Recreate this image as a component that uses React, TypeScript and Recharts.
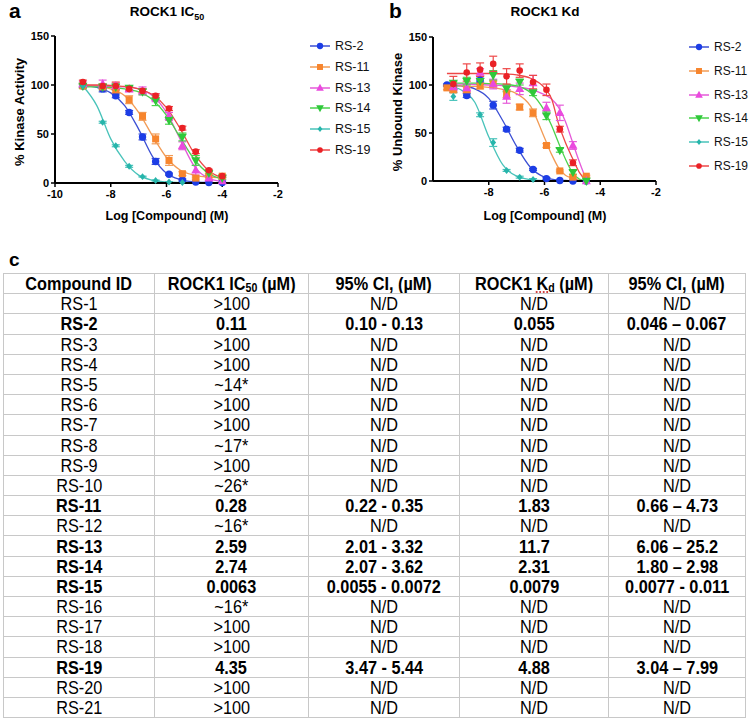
import React from "react";
import { ComposedChart, Line, Scatter, XAxis, YAxis, ErrorBar } from "recharts";

// log [compound] (M) for the measured points
const ic50X = [-9, -8.29, -7.82, -7.34, -6.86, -6.39, -5.91, -5.43, -4.95, -4.48, -4];
const kdX = [-9.5, -9.27, -8.79, -8.31, -7.84, -7.36, -6.89, -6.41, -5.93, -5.45, -4.98, -4.5];

const ic50FitX = [-9, -8.5, -8, -7.5, -7, -6.5, -6, -5.5, -5, -4.5, -4];
const kdFitX = [-9.5, -9, -8.5, -8, -7.5, -7, -6.5, -6, -5.75, -5.5, -5.25, -5, -4.75, -4.5];

const seriesNames = ["RS-2", "RS-11", "RS-13", "RS-14", "RS-15", "RS-19"];

// panel a: % kinase activity
const ic50RS2 = [99, 96, 89, 72, 47, 22, 9, 3, 1, 0.5, 0.5];
const ic50RS11 = [99, 98, 95, 85, 68, 45, 23, 9.5, 5, 7.5, 7];
const ic50RS13 = [101, 101, 99, 96, 94, 87, 68, 38, 13, 5, 2];
const ic50RS14 = [99, 98, 98, 97, 93, 84, 64, 47, 23, 10, 5];
const ic50RS15 = [99, 62, 38, 17, 6.5, 2.5, 1, 0.5, null, null, null];
const ic50RS19 = [103, 99, 99, 96, 94, 89, 76, 56, 32, 13, 7];

const ic50RS2Err = [2, 3, 2, 2, 3, 3, 1, 1, 0, 0, 0];
const ic50RS11Err = [2, 2, 3, 4, 4, 5, 5, 2, 1, 2, 1];
const ic50RS13Err = [3, 4, 3, 3, 4, 4, 4, 4, 5, 2, 1];
const ic50RS14Err = [2, 3, 3, 2, 3, 5, 4, 4, 5, 2, 1];
const ic50RS15Err = [1, 1, 1, 1, 0.5, 0.5, 0.3, 0.3, null, null, null];
const ic50RS19Err = [2, 2, 4, 2, 2, 2, 2, 2, 2, 1, 1];

const ic50RS2Fit = [99.5, 97.5, 92, 79, 55, 27, 10, 3.5, 1.2, 0.5, 0.2];
const ic50RS11Fit = [99.5, 99, 96, 89, 72, 48, 26, 13, 8, 6, 5.5];
const ic50RS13Fit = [99, 99, 98.5, 98, 96, 89, 72, 44, 17, 5, 1.5];
const ic50RS14Fit = [98, 98, 97.5, 96, 93, 85, 69, 46, 24, 10, 4];
const ic50RS15Fit = [99, 79, 45, 22, 8, 2.8, 1, 0.4, null, null, null];
const ic50RS19Fit = [100, 100, 99.5, 98.5, 96, 90, 77, 55, 30, 13, 5];

// panel b: % unbound kinase
const kdRS2 = [100, 97, 89, 105, 79, 54, 32, 12, 2.5, 0.5, 0, 0];
const kdRS11 = [97, 95, 95, 99, 101, 91, 77, 71, 37, 10.5, 4, 5];
const kdRS13 = [null, 98, 97, 113, 101, 88, 96, 102, 76, 71, 37, 0];
const kdRS14 = [null, 102, 104, 104, 110, 96, 103, 92, 68, 32, 9, 0];
const kdRS15 = [null, 88, null, 69, 40, 11, 4, 1.5, null, null, null, null];
const kdRS19 = [null, 101, 113, 116, 122, 109, 115, 103, 95, 54, 19, null];

const kdRS2Err = [1, 2, 2, 2, 4, 2, 2, 1, 1, 0, 0, 0];
const kdRS11Err = [2, 3, 3, 3, 3, 4, 3, 4, 2, 1, 1, 1];
const kdRS13Err = [null, 3, 4, 4, 5, 7, 6, 8, 6, 8, 4, 0];
const kdRS14Err = [null, 2, 4, 3, 5, 3, 3, 3, 4, 2, 2, 0];
const kdRS15Err = [null, 4, null, 2, 4, 1, 1, 1, null, null, null, null];
const kdRS19Err = [null, 8, 9, 7, 8, 8, 7, 7, 6, 3, 3, null];

const kdRS2Fit = [100, 99, 96, 86, 63, 36, 14, 4, 2, 1, 0.5, 0.2, 0, 0];
const kdRS11Fit = [99.5, 99, 98.5, 97.5, 95.5, 91, 78, 45, 28, 14, 6, 3, 1, 0];
const kdRS13Fit = [101, 101, 100.5, 100, 99.5, 98, 95.5, 90, 85.5, 77, 62, 41, 20, 1];
const kdRS14Fit = [102, 102, 102, 101.5, 101, 99, 92, 73, 58, 40, 23, 9, 2, 0];
const kdRS15Fit = [99, 95, 82, 46, 17, 5, 1.5, 0.4, null, null, null, null, null, null];
const kdRS19Fit = [112, 112, 112, 112, 111.5, 110.5, 107, 97, 86, 60, 40, 24, 9, 0];

// table c
const compoundIds = ["RS-1", "RS-2", "RS-3", "RS-4", "RS-5", "RS-6", "RS-7", "RS-8", "RS-9", "RS-10", "RS-11",
  "RS-12", "RS-13", "RS-14", "RS-15", "RS-16", "RS-17", "RS-18", "RS-19", "RS-20", "RS-21"];
const ic50Vals = [">100", "0.11", ">100", ">100", "~14*", ">100", ">100", "~17*", ">100", "~26*", "0.28",
  "~16*", "2.59", "2.74", "0.0063", "~16*", ">100", ">100", "4.35", ">100", ">100"];
const ic50Ci = ["N/D", "0.10 - 0.13", "N/D", "N/D", "N/D", "N/D", "N/D", "N/D", "N/D", "N/D", "0.22 - 0.35",
  "N/D", "2.01 - 3.32", "2.07 - 3.62", "0.0055 - 0.0072", "N/D", "N/D", "N/D", "3.47 - 5.44", "N/D", "N/D"];
const kdVals = ["N/D", "0.055", "N/D", "N/D", "N/D", "N/D", "N/D", "N/D", "N/D", "N/D", "1.83",
  "N/D", "11.7", "2.31", "0.0079", "N/D", "N/D", "N/D", "4.88", "N/D", "N/D"];
const kdCi = ["N/D", "0.046 – 0.067", "N/D", "N/D", "N/D", "N/D", "N/D", "N/D", "N/D", "N/D", "0.66 – 4.73",
  "N/D", "6.06 – 25.2", "1.80 – 2.98", "0.0077 - 0.011", "N/D", "N/D", "N/D", "3.04 – 7.99", "N/D", "N/D"];
const boldRows = ["RS-2", "RS-11", "RS-13", "RS-14", "RS-15", "RS-19"];

const markerColors = ["#1c3de6", "#f7852d", "#ea4ade", "#2fc83a", "#27b5ab", "#ea2126"];
const lineColors = ["#3b4fd4", "#f29b55", "#e55ad9", "#4ad34c", "#48c3ba", "#ee4747"];
const markerShapes = ["circle", "square", "triangle", "triangleDown", "diamond", "circle"];
const markerSizes = [3.7, 3.5, 4.1, 4.1, 2.9, 3.3];

const FONT = "'Liberation Sans', Arial, sans-serif";

function toPoints(xs: number[], ys: (number | null)[], errs?: (number | null)[]) {
  return xs
    .map((x, i) => ({ x, y: ys[i], err: errs ? errs[i] ?? 0 : 0 }))
    .filter((p) => p.y != null);
}

function Marker({ cx, cy, shape, color, size }: any) {
  if (cx == null || cy == null) return null;
  const s = size;
  if (shape === "square") return <rect x={cx - s} y={cy - s} width={2 * s} height={2 * s} fill={color} />;
  if (shape === "triangle")
    return <polygon points={`${cx},${cy - s * 1.2} ${cx + s * 1.1},${cy + s * 0.8} ${cx - s * 1.1},${cy + s * 0.8}`} fill={color} />;
  if (shape === "triangleDown")
    return <polygon points={`${cx},${cy + s * 1.2} ${cx + s * 1.1},${cy - s * 0.8} ${cx - s * 1.1},${cy - s * 0.8}`} fill={color} />;
  if (shape === "diamond")
    return <polygon points={`${cx},${cy - s * 1.2} ${cx + s},${cy} ${cx},${cy + s * 1.2} ${cx - s},${cy}`} fill={color} />;
  return <circle cx={cx} cy={cy} r={s} fill={color} />;
}

function Legend({ left, top, gap, font }: { left: number; top: number; gap: number; font: number }) {
  return (
    <div style={{ position: "absolute", left, top }}>
      {seriesNames.map((name, i) => (
        <div key={name} style={{ position: "absolute", top: i * gap - 8, left: 0, height: 16, display: "flex", alignItems: "center", whiteSpace: "nowrap" }}>
          <svg width={22} height={12}>
            <line x1={1} y1={6} x2={21} y2={6} stroke={lineColors[i]} strokeWidth={1.5} />
            <Marker cx={11} cy={6} shape={markerShapes[i]} color={markerColors[i]} size={markerSizes[i] * 0.85} />
          </svg>
          <span style={{ marginLeft: 4, fontFamily: FONT, fontSize: font, color: "#111" }}>{name}</span>
        </div>
      ))}
    </div>
  );
}

function DosePanel(props: any) {
  const { width, yAxisWidth, top, right, xAxisHeight, xs, values, errors, fitX, fits, xTicks } = props;
  const tick = { fill: "#000", fontSize: 11, fontWeight: 700, fontFamily: FONT };
  return (
    <ComposedChart width={width} height={230} margin={{ top, right, bottom: 0, left: 0 }}>
      <XAxis
        type="number"
        dataKey="x"
        domain={[-10, -2]}
        ticks={xTicks}
        allowDataOverflow
        height={xAxisHeight}
        tick={tick}
        tickSize={4}
        tickMargin={3}
        axisLine={{ stroke: "#000", strokeWidth: 2 }}
        tickLine={{ stroke: "#000", strokeWidth: 1.5 }}
      />
      <YAxis
        type="number"
        dataKey="y"
        domain={[0, 150]}
        ticks={[0, 50, 100, 150]}
        width={yAxisWidth}
        tick={tick}
        tickSize={4}
        tickMargin={2}
        axisLine={{ stroke: "#000", strokeWidth: 2 }}
        tickLine={{ stroke: "#000", strokeWidth: 1.5 }}
      />
      {fits.map((f: (number | null)[], i: number) => (
        <Line
          key={"fit" + i}
          data={toPoints(fitX, f)}
          dataKey="y"
          type="monotone"
          stroke={lineColors[i]}
          strokeWidth={1.3}
          dot={false}
          activeDot={false}
          isAnimationActive={false}
        />
      ))}
      {values.map((v: (number | null)[], i: number) => (
        <Scatter
          key={"pts" + i}
          data={toPoints(xs, v, errors[i])}
          dataKey="y"
          isAnimationActive={false}
          shape={(p: any) => <Marker cx={p.cx} cy={p.cy} shape={markerShapes[i]} color={markerColors[i]} size={markerSizes[i]} />}
        >
          <ErrorBar dataKey="err" direction="y" width={4} stroke={lineColors[i]} strokeWidth={1.2} isAnimationActive={false} />
        </Scatter>
      ))}
    </ComposedChart>
  );
}

const abs = (left: number, top: number, extra: React.CSSProperties = {}): React.CSSProperties => ({
  position: "absolute",
  left,
  top,
  fontFamily: FONT,
  color: "#000",
  ...extra,
});

const Txt = ({ children }: { children: React.ReactNode }) => (
  <span style={{ display: "inline-block", transform: "scaleX(0.88)", transformOrigin: "center" }}>{children}</span>
);

export default function App() {
  const cell: React.CSSProperties = {
    border: "1px solid #c8c8c8",
    padding: 0,
    textAlign: "center",
    height: 19.2,
    lineHeight: "19px",
    whiteSpace: "nowrap",
    overflow: "hidden",
  };
  const sub: React.CSSProperties = { fontSize: 12, verticalAlign: "-2px", lineHeight: 0 };
  const colWidths = [151, 154, 151, 149, 137];
  return (
    <div style={{ position: "relative", width: 749, height: 726, background: "#fff", overflow: "hidden" }}>
      <style>{"body{margin:0;background:#fff}"}</style>

      {/* panel a */}
      <div style={abs(0, 0)}>
        <DosePanel
          width={370}
          yAxisWidth={55}
          top={36}
          right={92}
          xAxisHeight={47}
          xs={ic50X}
          values={[ic50RS2, ic50RS11, ic50RS13, ic50RS14, ic50RS15, ic50RS19]}
          errors={[ic50RS2Err, ic50RS11Err, ic50RS13Err, ic50RS14Err, ic50RS15Err, ic50RS19Err]}
          fitX={ic50FitX}
          fits={[ic50RS2Fit, ic50RS11Fit, ic50RS13Fit, ic50RS14Fit, ic50RS15Fit, ic50RS19Fit]}
          xTicks={[-10, -8, -6, -4, -2]}
        />
      </div>
      <div style={abs(9, 0, { fontSize: 21, lineHeight: "21px", fontWeight: 700 })}>a</div>
      <div style={abs(97, 4, { width: 140, textAlign: "center", fontSize: 13.5, fontWeight: 700 })}>
        ROCK1 IC<sub style={{ fontSize: 9 }}>50</sub>
      </div>
      <div style={abs(19, 112, { fontSize: 13, fontWeight: 700, transform: "translate(-50%,-50%) rotate(-90deg)", whiteSpace: "nowrap" })}>
        % Kinase Activity
      </div>
      <div style={abs(167, 216, { fontSize: 12.5, fontWeight: 700, transform: "translate(-50%,-50%)", whiteSpace: "nowrap" })}>
        Log [Compound] (M)
      </div>
      <Legend left={309} top={46} gap={20.8} font={12.5} />

      {/* panel b */}
      <div style={abs(370, 0)}>
        <DosePanel
          width={379}
          yAxisWidth={63}
          top={37}
          right={93}
          xAxisHeight={49}
          xs={kdX}
          values={[kdRS2, kdRS11, kdRS13, kdRS14, kdRS15, kdRS19]}
          errors={[kdRS2Err, kdRS11Err, kdRS13Err, kdRS14Err, kdRS15Err, kdRS19Err]}
          fitX={kdFitX}
          fits={[kdRS2Fit, kdRS11Fit, kdRS13Fit, kdRS14Fit, kdRS15Fit, kdRS19Fit]}
          xTicks={[-8, -6, -4, -2]}
        />
      </div>
      <div style={abs(389, 0, { fontSize: 21, lineHeight: "21px", fontWeight: 700 })}>b</div>
      <div style={abs(475, 4, { width: 140, textAlign: "center", fontSize: 13.5, fontWeight: 700 })}>ROCK1 Kd</div>
      <div style={abs(397, 112, { fontSize: 13, fontWeight: 700, transform: "translate(-50%,-50%) rotate(-90deg)", whiteSpace: "nowrap" })}>
        % Unbound Kinase
      </div>
      <div style={abs(545, 216, { fontSize: 12.5, fontWeight: 700, transform: "translate(-50%,-50%)", whiteSpace: "nowrap" })}>
        Log [Compound] (M)
      </div>
      <Legend left={688} top={47} gap={23.8} font={12} />

      {/* table c */}
      <div style={abs(9, 249, { fontSize: 19, fontWeight: 700 })}>c</div>
      <table
        style={{
          position: "absolute",
          left: 3,
          top: 273,
          width: 742,
          borderCollapse: "collapse",
          tableLayout: "fixed",
          fontFamily: FONT,
          fontSize: 18.5,
          color: "#000",
        }}
      >
        <colgroup>
          {colWidths.map((w, i) => (
            <col key={i} style={{ width: w }} />
          ))}
        </colgroup>
        <thead>
          <tr style={{ fontWeight: 700 }}>
            <td style={cell}><Txt>Compound ID</Txt></td>
            <td style={cell}>
              <Txt>ROCK1 IC<sub style={sub}>50</sub> (µM)</Txt>
            </td>
            <td style={cell}><Txt>95% CI, (µM)</Txt></td>
            <td style={cell}>
              <Txt>
                ROCK1 <span style={{ textDecoration: "underline dotted #d04040" }}>K<sub style={sub}>d</sub></span> (µM)
              </Txt>
            </td>
            <td style={cell}><Txt>95% CI, (µM)</Txt></td>
          </tr>
        </thead>
        <tbody>
          {compoundIds.map((id, i) => (
            <tr key={id} style={{ fontWeight: boldRows.includes(id) ? 700 : 400 }}>
              <td style={cell}><Txt>{id}</Txt></td>
              <td style={cell}><Txt>{ic50Vals[i]}</Txt></td>
              <td style={cell}><Txt>{ic50Ci[i]}</Txt></td>
              <td style={cell}><Txt>{kdVals[i]}</Txt></td>
              <td style={cell}><Txt>{kdCi[i]}</Txt></td>
            </tr>
          ))}
        </tbody>
      </table>
    </div>
  );
}
